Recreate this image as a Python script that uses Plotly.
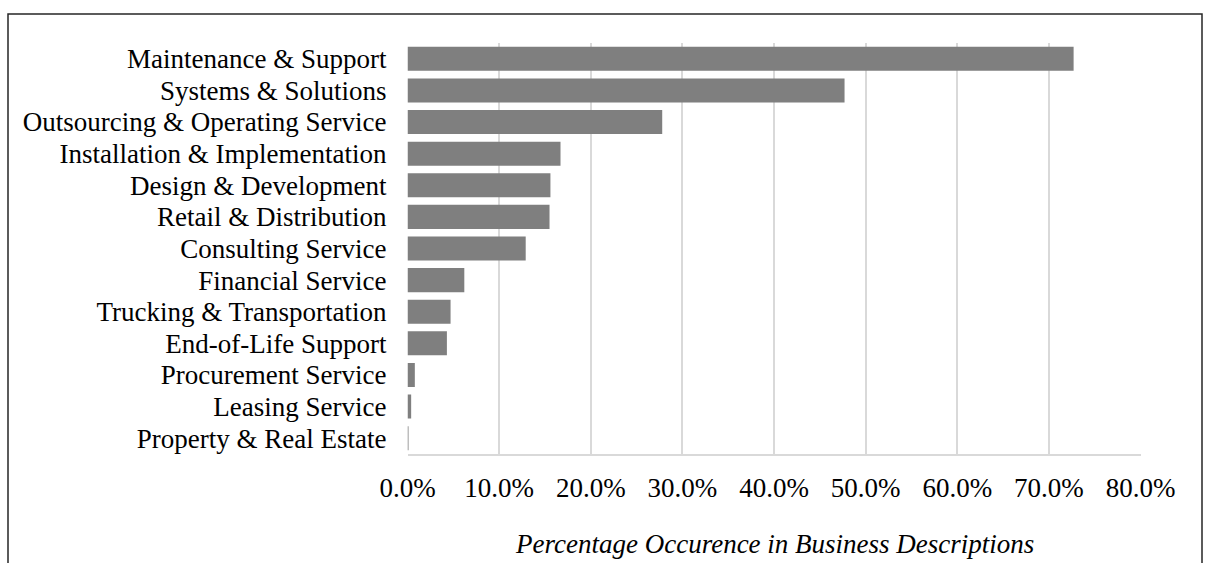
import plotly.graph_objects as go

# Service categories (top to bottom) and their share of business descriptions (%)
categories = [
    "Maintenance & Support",
    "Systems & Solutions",
    "Outsourcing & Operating Service",
    "Installation & Implementation",
    "Design & Development",
    "Retail & Distribution",
    "Consulting Service",
    "Financial Service",
    "Trucking & Transportation",
    "End-of-Life Support",
    "Procurement Service",
    "Leasing Service",
    "Property & Real Estate",
]
occurrence_pct = [72.7, 47.7, 27.8, 16.7, 15.6, 15.5, 12.9, 6.2, 4.7, 4.3, 0.8, 0.4, 0.1]

tick_values = [0, 10, 20, 30, 40, 50, 60, 70, 80]
tick_labels = ["0.0%", "10.0%", "20.0%", "30.0%", "40.0%", "50.0%", "60.0%", "70.0%", "80.0%"]
axis_title = "Percentage Occurence in Business Descriptions"

W, H = 1205, 563
FONT = "Liberation Serif, Times New Roman, serif"
FS = 27

fig = go.Figure(
    go.Bar(
        x=occurrence_pct,
        y=categories,
        orientation="h",
        marker=dict(color="#7f7f7f", line=dict(width=0)),
        hoverinfo="x+y",
    )
)

fig.update_layout(
    width=W,
    height=H,
    margin=dict(l=0, r=0, t=0, b=0),
    paper_bgcolor="white",
    plot_bgcolor="white",
    bargap=0.24,
    showlegend=False,
    font=dict(family=FONT, size=FS, color="#000000"),
    xaxis=dict(
        domain=[407.5 / W, 1140.5 / W],
        range=[0, 80],
        tickmode="array",
        tickvals=tick_values,
        ticktext=tick_labels,
        showgrid=True,
        gridcolor="#d9d9d9",
        gridwidth=2,
        zeroline=False,
        showline=True,
        linecolor="#d9d9d9",
        linewidth=1.5,
        ticks="",
        ticklabelstandoff=9,
        automargin=False,
        tickfont=dict(family=FONT, size=FS, color="#000000"),
    ),
    yaxis=dict(
        domain=[1 - 454 / H, 1 - 43 / H],
        autorange="reversed",
        categoryorder="array",
        categoryarray=categories,
        tickmode="array",
        tickvals=categories,
        ticktext=categories,
        showgrid=False,
        zeroline=False,
        showline=False,
        ticks="",
        ticklabelstandoff=20,
        automargin=False,
        tickfont=dict(family=FONT, size=FS, color="#000000"),
    ),
    shapes=[
        # frame around the chart (open at the bottom edge)
        dict(
            type="path",
            xref="paper",
            yref="paper",
            path=f"M {8/W} -0.05 L {8/W} {1-14/H} L {1202/W} {1-14/H} L {1202/W} -0.05",
            line=dict(color="#262626", width=1.5),
        )
    ],
    annotations=[
        dict(
            text=f"<i>{axis_title}</i>",
            xref="paper",
            yref="paper",
            x=(407.5 + 1140.5) / 2 / W,
            y=1 - 544 / H,
            xanchor="center",
            yanchor="middle",
            showarrow=False,
            font=dict(family=FONT, size=FS, color="#000000"),
        )
    ],
)

fig.write_html("out.html")
